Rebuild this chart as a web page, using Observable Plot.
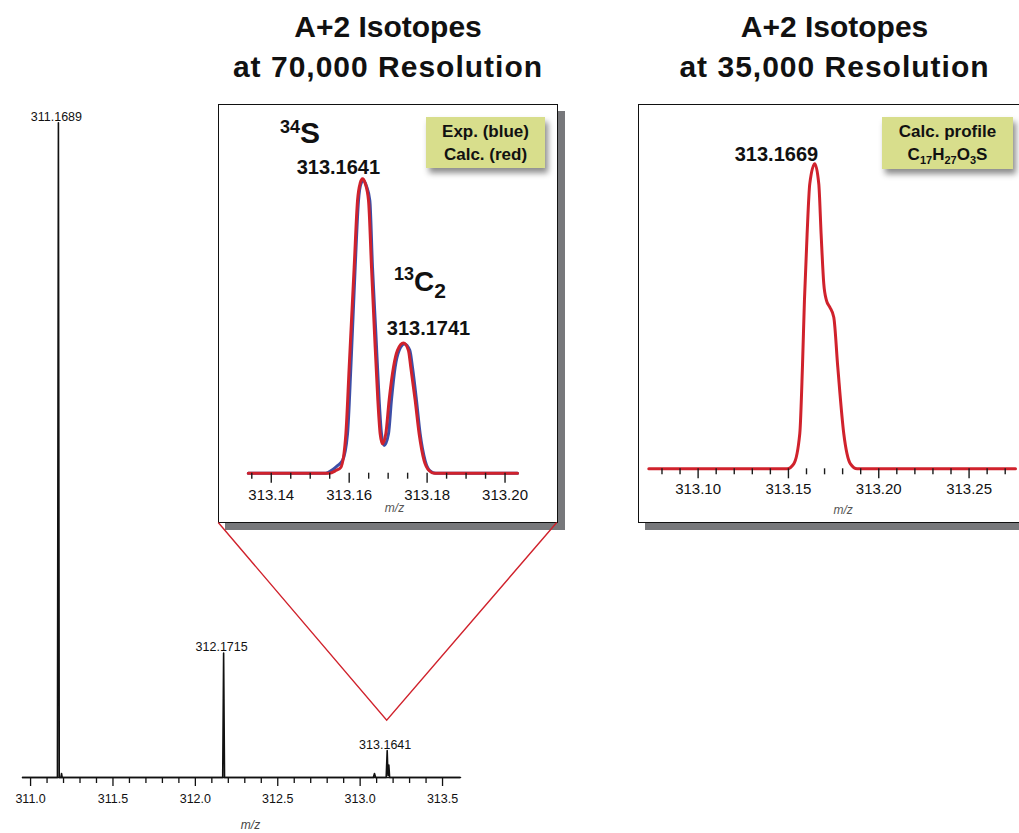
<!DOCTYPE html>
<html>
<head>
<meta charset="utf-8">
<script src="https://cdn.jsdelivr.net/npm/d3@7"></script>
<script src="https://cdn.jsdelivr.net/npm/@observablehq/plot@0.6"></script>
<style>
  html, body { margin: 0; padding: 0; background: #fff; }
  body { font-family: "Liberation Sans", Arial, Helvetica, sans-serif; color: #111; }
  #wrap { position: relative; width: 1019px; height: 833px; overflow: hidden; background: #fff; }
  .title { position: absolute; width: 420px; text-align: center; font-weight: bold; font-size: 30px; line-height: 40px; color: #111; white-space: nowrap; }
  .title .l2 { letter-spacing: 1px; }
  .frame { position: absolute; box-sizing: border-box; border: 1.5px solid #111; background: #fff; box-shadow: 7px 7px 0 #77787b; }
  .legend { position: absolute; box-sizing: border-box; background: #d8de8c; box-shadow: 3px 5px 6px rgba(0,0,0,0.45);
            text-align: center; font-weight: bold; font-size: 17px; line-height: 23px; padding-top: 3px; color: #111; white-space: nowrap; }
  .legend .sb { font-size: 11px; position: relative; top: 4px; }
  .plotbox { position: absolute; }
  .plotbox svg { display: block; max-width: none; }
</style>
</head>
<body>
<div id="wrap"></div>
<script>
// ---------------- DATA ----------------
// Full spectrum (left panel): m/z and relative intensity (%)
const fullMz  = [310.951, 311.163, 311.1689, 311.174, 311.184, 311.188, 311.192,
                 312.166, 312.1715, 312.177,
                 313.080, 313.087, 313.094,
                 313.158, 313.1641, 313.169, 313.1741, 313.179, 313.609];
const fullInt = [0, 0, 100, 0, 0, 0.6, 0,
                 0, 19.0, 0,
                 0, 0.6, 0,
                 0, 4.1, 0.3, 1.9, 0, 0];
const fullPeakMz     = [311.1689, 312.1715, 313.1641];
const fullPeakInt    = [100, 19.0, 4.1];
const fullPeakLabels = ["311.1689", "312.1715", "313.1641"];
const fullMajorTicks = [311.0, 311.5, 312.0, 312.5, 313.0, 313.5];
const fullMinorTicks = [311.1, 311.2, 311.3, 311.4, 311.6, 311.7, 311.8, 311.9,
                        312.1, 312.2, 312.3, 312.4, 312.6, 312.7, 312.8, 312.9,
                        313.1, 313.2, 313.3, 313.4];

// A+2 at 70,000 resolution: calculated (red) and experimental (blue) profiles
const hrCalcMz  = [313.1341, 313.15487, 313.15658, 313.15786, 313.15915, 313.16000, 313.16128, 313.16214,
                   313.16282, 313.16342, 313.16410, 313.16496, 313.16573, 313.16650, 313.16735, 313.16795,
                   313.16855, 313.16940, 313.17026, 313.17137, 313.17239, 313.17393, 313.17521, 313.17581,
                   313.17692, 313.17795, 313.17923, 313.18051, 313.18179, 313.2032];
const hrCalcInt = [0, 0, 0.9, 2.0, 13.4, 36, 70, 92.6,
                   98.5, 100, 98.5, 92.6, 70, 47.6, 24.9, 13.4,
                   10, 13.4, 24.9, 36, 41.7, 44.2, 41.7, 36,
                   24.9, 13.4, 4.3, 0.9, 0, 0];
const hrExpMz   = [313.1341, 313.15402, 313.15573, 313.15701, 313.15829, 313.15957, 313.16043, 313.16154,
                   313.16239, 313.16308, 313.16368, 313.16444, 313.16530, 313.16598, 313.16684, 313.16769,
                   313.16829, 313.16897, 313.17009, 313.17085, 313.17179, 313.17282, 313.17419, 313.17556,
                   313.17624, 313.17726, 313.17821, 313.17949, 313.18068, 313.18222, 313.2032];
const hrExpInt  = [0, 0, 1.2, 2.6, 4.3, 13.4, 36, 70,
                   92.6, 98.5, 99.4, 97.5, 92.6, 70, 47.6, 24.9,
                   13.4, 9.4, 13.4, 24.9, 36, 41.7, 43.9, 41.7,
                   36, 24.9, 13.4, 4.3, 0.9, 0, 0];
const hrPeakMz     = [313.16342, 313.17393];
const hrPeakInt    = [100, 44.2];
const hrPeakLabels = ["313.1641", "313.1741"];
const hrMajorTicks = [313.14, 313.16, 313.18, 313.20];
const hrMinorTicks = [313.135, 313.145, 313.15, 313.155, 313.165, 313.17, 313.175, 313.185, 313.19, 313.195];

// A+2 at 35,000 resolution: calculated profile
const lrMz  = [313.0727, 313.14926, 313.15295, 313.15628, 313.15775, 313.15886, 313.16034, 313.16181,
               313.16458, 313.16680, 313.16809, 313.16956, 313.17104, 313.17289, 313.17510, 313.17732,
               313.18064, 313.18433, 313.18802, 313.2757];
const lrInt = [0, 0, 1.6, 11.5, 33.3, 55.2, 77, 93.4,
               100, 93.4, 77, 60.7, 55.2, 53, 49.7, 33.3,
               11.5, 1.6, 0, 0];
const lrPeakMz     = [313.16458];
const lrPeakInt    = [100];
const lrPeakLabels = ["313.1669"];
const lrMajorTicks = [313.10, 313.15, 313.20, 313.25];
const lrMinorTicks = [313.08, 313.09, 313.11, 313.12, 313.13, 313.14, 313.16, 313.17, 313.18, 313.19,
                      313.21, 313.22, 313.23, 313.24, 313.26, 313.27];

const titles = [["A+2 Isotopes", "at 70,000 Resolution"], ["A+2 Isotopes", "at 35,000 Resolution"]];
const legend1 = ["Exp. (blue)", "Calc. (red)"];
const legend2Line1 = "Calc. profile";
const formula = [["C", "17"], ["H", "27"], ["O", "3"], ["S", ""]];
const axisLabel = "m/z";

// ---------------- BUILD ----------------
const FONT = '"Liberation Sans", Arial, Helvetica, sans-serif';
const RED = "#d0222c", BLUE = "#3d4ea6", INK = "#111";
const wrap = document.getElementById("wrap");
function add(el) { wrap.appendChild(el); return el; }
function box(cls, left, top, w, h) {
  const d = document.createElement("div");
  d.className = cls;
  d.style.left = left + "px"; d.style.top = top + "px";
  if (w != null) d.style.width = w + "px";
  if (h != null) d.style.height = h + "px";
  return add(d);
}
function placePlot(svg, left, top) {
  const d = box("plotbox", left, top);
  d.appendChild(svg);
  return d;
}
const zip = (xs, ys) => xs.map((x, i) => ({mz: x, v: ys[i]}));
const styleObj = {fontFamily: FONT, background: "transparent", overflow: "visible", color: INK};

// ---- Main (full) spectrum ----
const fullData = zip(fullMz, fullInt);
const fullPeaks = fullPeakMz.map((m, i) => ({mz: m, v: fullPeakInt[i], label: fullPeakLabels[i]}));
const mainPlot = Plot.plot({
  width: 470, height: 833,
  marginLeft: 22, marginRight: 10, marginTop: 122.3, marginBottom: 56,
  x: {domain: [310.951, 313.609], axis: null},
  y: {domain: [0, 100], axis: null},
  style: styleObj,
  marks: [
    Plot.ruleY([0], {stroke: INK, strokeWidth: 1.5}),
    Plot.line(fullData, {x: "mz", y: "v", stroke: INK, strokeWidth: 1.6}),
    Plot.axisX(fullMinorTicks, {tickSize: 6, tickFormat: () => "", label: null, stroke: INK, strokeWidth: 1.3}),
    Plot.axisX(fullMajorTicks, {tickSize: 9, tickPadding: 8, fontSize: 12.5, tickFormat: d => d.toFixed(1),
                                label: null, stroke: INK, strokeWidth: 1.3}),
    Plot.text(fullPeaks, {x: "mz", y: "v", text: "label", dx: -2, dy: -2, lineAnchor: "bottom", fontSize: 12.5, fill: INK}),
    Plot.text([axisLabel], {frameAnchor: "bottom", dx: 9, dy: 51, fontStyle: "italic", fontSize: 12, fill: "#444"})
  ]
});
placePlot(mainPlot, 0, 0);

// ---- Frames ----
const F1 = {left: 217.5, top: 104.3, w: 340, h: 419};
const F2 = {left: 638, top: 104.3, w: 420, h: 419};
box("frame", F1.left, F1.top, F1.w, F1.h);
box("frame", F2.left, F2.top, F2.w, F2.h);

// ---- Inset 1: 70,000 resolution ----
const hrCalc = zip(hrCalcMz, hrCalcInt);
const hrExp = zip(hrExpMz, hrExpInt);
const hrPeaks = hrPeakMz.map((m, i) => ({mz: m, v: hrPeakInt[i], label: hrPeakLabels[i]}));
const inset1 = Plot.plot({
  width: 337, height: 418,
  marginLeft: 28, marginRight: 39, marginTop: 73.3, marginBottom: 50.3,
  x: {domain: [313.1339, 313.2032], axis: null},
  y: {domain: [0, 100], axis: null},
  style: styleObj,
  marks: [
    Plot.line(hrExp, {x: "mz", y: "v", stroke: BLUE, strokeWidth: 3, curve: "monotone-x"}),
    Plot.line(hrCalc, {x: "mz", y: "v", stroke: RED, strokeWidth: 3, curve: "monotone-x"}),
    Plot.axisX(hrMinorTicks, {tickSize: 6, tickFormat: () => "", label: null, stroke: "#1a1a1a", strokeWidth: 1.4}),
    Plot.axisX(hrMajorTicks, {tickSize: 10, tickPadding: 6, fontSize: 15, tickFormat: d => d.toFixed(2),
                              label: null, stroke: "#1a1a1a", strokeWidth: 1.4}),
    Plot.text(hrPeaks.slice(0, 1), {x: "mz", y: "v", text: "label", textAnchor: "end", dx: 17.6, dy: -5,
                                    lineAnchor: "bottom", fontSize: 20, fontWeight: "bold", fill: INK}),
    Plot.text(hrPeaks.slice(1, 2), {x: "mz", y: "v", text: "label", textAnchor: "middle", dx: 25, dy: -8.4,
                                    lineAnchor: "bottom", fontSize: 20, fontWeight: "bold", fill: INK}),
    Plot.text([axisLabel], {frameAnchor: "bottom", dx: 12, dy: 39, fontStyle: "italic", fontSize: 12, fill: "#555"})
  ]
});
placePlot(inset1, 219, 105);

// ---- Inset 2: 35,000 resolution ----
const lrData = zip(lrMz, lrInt);
const lrPeaks = lrPeakMz.map((m, i) => ({mz: m, v: lrPeakInt[i], label: lrPeakLabels[i]}));
const inset2 = Plot.plot({
  width: 379, height: 418,
  marginLeft: 8.3, marginRight: 4, marginTop: 58.3, marginBottom: 54.7,
  x: {domain: [313.0727, 313.2757], axis: null},
  y: {domain: [0, 100], axis: null},
  style: styleObj,
  marks: [
    Plot.line(lrData, {x: "mz", y: "v", stroke: RED, strokeWidth: 3, curve: "monotone-x"}),
    Plot.axisX(lrMinorTicks, {tickSize: 6, tickFormat: () => "", label: null, stroke: "#1a1a1a", strokeWidth: 1.4}),
    Plot.axisX(lrMajorTicks, {tickSize: 10, tickPadding: 5, fontSize: 15, tickFormat: d => d.toFixed(2),
                              label: null, stroke: "#1a1a1a", strokeWidth: 1.4}),
    Plot.text(lrPeaks, {x: "mz", y: "v", text: "label", textAnchor: "end", dx: 3.4, dy: -3.3,
                        lineAnchor: "bottom", fontSize: 20, fontWeight: "bold", fill: INK}),
    Plot.text([axisLabel], {frameAnchor: "bottom", dx: 11, dy: 45, fontStyle: "italic", fontSize: 12, fill: "#555"})
  ]
});
placePlot(inset2, 640, 105);

// ---- Titles ----
const t1 = box("title", 178, 7); t1.innerHTML = `${titles[0][0]}<br><span class="l2">${titles[0][1]}</span>`;
const t2 = box("title", 624.5, 7); t2.innerHTML = `${titles[1][0]}<br><span class="l2">${titles[1][1]}</span>`;

// ---- Legends ----
const l1 = box("legend", 426, 117, 119, 51); l1.innerHTML = legend1.join("<br>");
const l2 = box("legend", 882, 117, 131, 52);
l2.innerHTML = legend2Line1 + "<br>" + formula.map(([el, n]) => el + (n ? `<span class="sb">${n}</span>` : "")).join("");

// ---- Overlay: zoom triangle and isotope annotations ----
const NS = "http://www.w3.org/2000/svg";
const ov = document.createElementNS(NS, "svg");
ov.setAttribute("width", 1019); ov.setAttribute("height", 833);
ov.style.cssText = `position:absolute;left:0;top:0;pointer-events:none;font-family:${FONT};`;
wrap.appendChild(ov);
const sx = mainPlot.scale("x"), sy = mainPlot.scale("y");
const apexX = sx.apply(fullPeakMz[2]);
const apexY = sy.apply(fullPeakInt[2]) - 30;
const corners = [[F1.left + 0.75, F1.top + F1.h - 0.75], [F1.left + F1.w - 0.75, F1.top + F1.h - 0.75]];
const tri = document.createElementNS(NS, "path");
tri.setAttribute("d", `M${corners[0][0]},${corners[0][1]}L${apexX},${apexY}L${corners[1][0]},${corners[1][1]}`);
tri.setAttribute("fill", "none"); tri.setAttribute("stroke", RED); tri.setAttribute("stroke-width", 1.4);
ov.appendChild(tri);

function annot(x, y, parts) {
  const t = document.createElementNS(NS, "text");
  t.setAttribute("x", x); t.setAttribute("y", y);
  t.setAttribute("font-weight", "bold"); t.setAttribute("fill", INK);
  for (const [txt, size, dy] of parts) {
    const s = document.createElementNS(NS, "tspan");
    s.setAttribute("font-size", size); s.setAttribute("dy", dy);
    s.textContent = txt; t.appendChild(s);
  }
  ov.appendChild(t);
}
annot(280, 133.3, [["34", 18, 0], ["S", 30, 10]]);
annot(394, 280, [["13", 18, 0], ["C", 28, 10.7], ["2", 21, 7.6]]);
</script>
</body>
</html>
